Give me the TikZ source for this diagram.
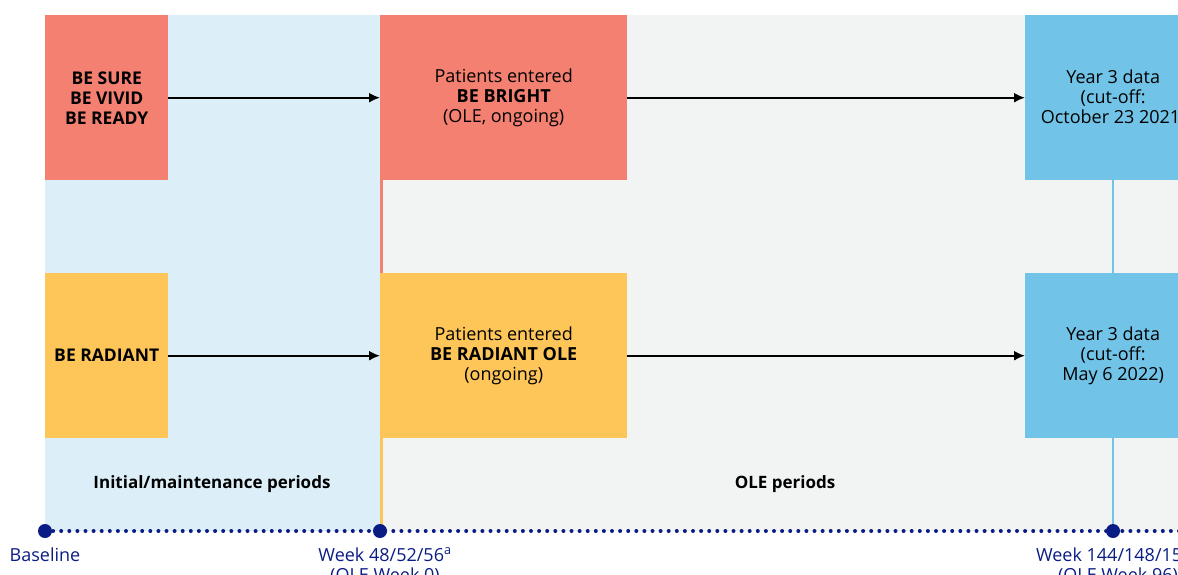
\documentclass[tikz,border=0pt]{standalone}
\usepackage{fontspec}
\setmainfont{Open Sans}
\usetikzlibrary{arrows.meta}
\definecolor{cred}{HTML}{F38070}
\definecolor{corange}{HTML}{FEC659}
\definecolor{cblue}{HTML}{71C4E8}
\definecolor{clightblue}{HTML}{DCEFF8}
\definecolor{cgrey}{HTML}{F2F3F3}
\definecolor{cnavy}{HTML}{0A1D84}
\tikzset{
  box/.style={anchor=north west, inner sep=0pt},
  boxtext/.style={align=center, font=\fontsize{18}{20}\selectfont, text=black},
  flow/.style={-{Latex[length=11pt,width=10pt]}, line width=2pt, black},
  milestone/.style={circle, fill=cnavy, minimum size=14pt, inner sep=0pt},
  tlabel/.style={text=cnavy, font=\fontsize{18}{20}\selectfont, align=center, anchor=north},
  period/.style={font=\bfseries\fontsize{17}{19}\selectfont, text=black},
}
\begin{document}
\begin{tikzpicture}[x=1pt,y=-1pt]
\useasboundingbox (0,0) rectangle (1178,574);
\clip (0,0) rectangle (1178,574);
% backgrounds
\fill[clightblue] (45,15) rectangle (380,531);
\fill[cgrey] (380,15) rectangle (1178,531);
% vertical connector lines
\draw[cred, line width=3pt] (381.5,180) -- (381.5,273);
\draw[corange, line width=3pt] (381.5,438) -- (381.5,531);
\draw[cblue, line width=2.5pt] (1113,180) -- (1113,273);
\draw[cblue, line width=2.5pt] (1113,438) -- (1113,531);
% boxes
\node[box, fill=cred, minimum width=123pt, minimum height=165pt] (s1) at (45,15) {};
\node[boxtext, font=\bfseries\fontsize{17.5}{20}\selectfont] at (s1.center) {BE SURE\\BE VIVID\\BE READY};
\node[box, fill=cred, minimum width=247pt, minimum height=165pt] (s2) at (380,15) {};
\node[boxtext] at (s2.center) {Patients entered\\\textbf{BE BRIGHT}\\(OLE, ongoing)};
\node[box, fill=cblue, minimum width=176pt, minimum height=165pt] (s3) at (1025,15) {};
\node[boxtext] at (s3.center) {Year 3 data\\(cut-off:\\October 23 2021)};
\node[box, fill=corange, minimum width=123pt, minimum height=165pt] (r1) at (45,273) {};
\node[boxtext, font=\bfseries\fontsize{17.5}{20}\selectfont] at (r1.center) {BE RADIANT};
\node[box, fill=corange, minimum width=247pt, minimum height=165pt] (r2) at (380,273) {};
\node[boxtext] at (r2.center) {Patients entered\\\textbf{BE RADIANT OLE}\\(ongoing)};
\node[box, fill=cblue, minimum width=176pt, minimum height=165pt] (r3) at (1025,273) {};
\node[boxtext] at (r3.center) {Year 3 data\\(cut-off:\\May 6 2022)};
% arrows
\draw[flow] (s1.east) -- (s2.west);
\draw[flow] (s2.east) -- (s3.west);
\draw[flow] (r1.east) -- (r2.west);
\draw[flow] (r2.east) -- (r3.west);
% period labels
\node[period] (p1) at (212,484) {Initial/maintenance periods};
\node[period] (p2) at (785,484) {OLE periods};
% timeline
\coordinate (tl0) at (45,531);
\coordinate (tl1) at (1190,531);
\draw[cnavy, line width=4pt, line cap=round, dash pattern=on 0pt off 8.1pt] (tl0) -- (tl1);
\node[milestone] (m0) at (45,531) {};
\node[milestone] (m1) at (380,531) {};
\node[milestone] (m2) at (1113,531) {};
\node[tlabel] (l0) at (45,544) {Baseline};
\node[tlabel] (l1) at (385,544) {Week 48/52/56\textsuperscript{a}\\(OLE Week 0)};
\node[tlabel] (l2) at (1118,544) {Week 144/148/152\textsuperscript{a}\\(OLE Week 96)};
\end{tikzpicture}
\end{document}
